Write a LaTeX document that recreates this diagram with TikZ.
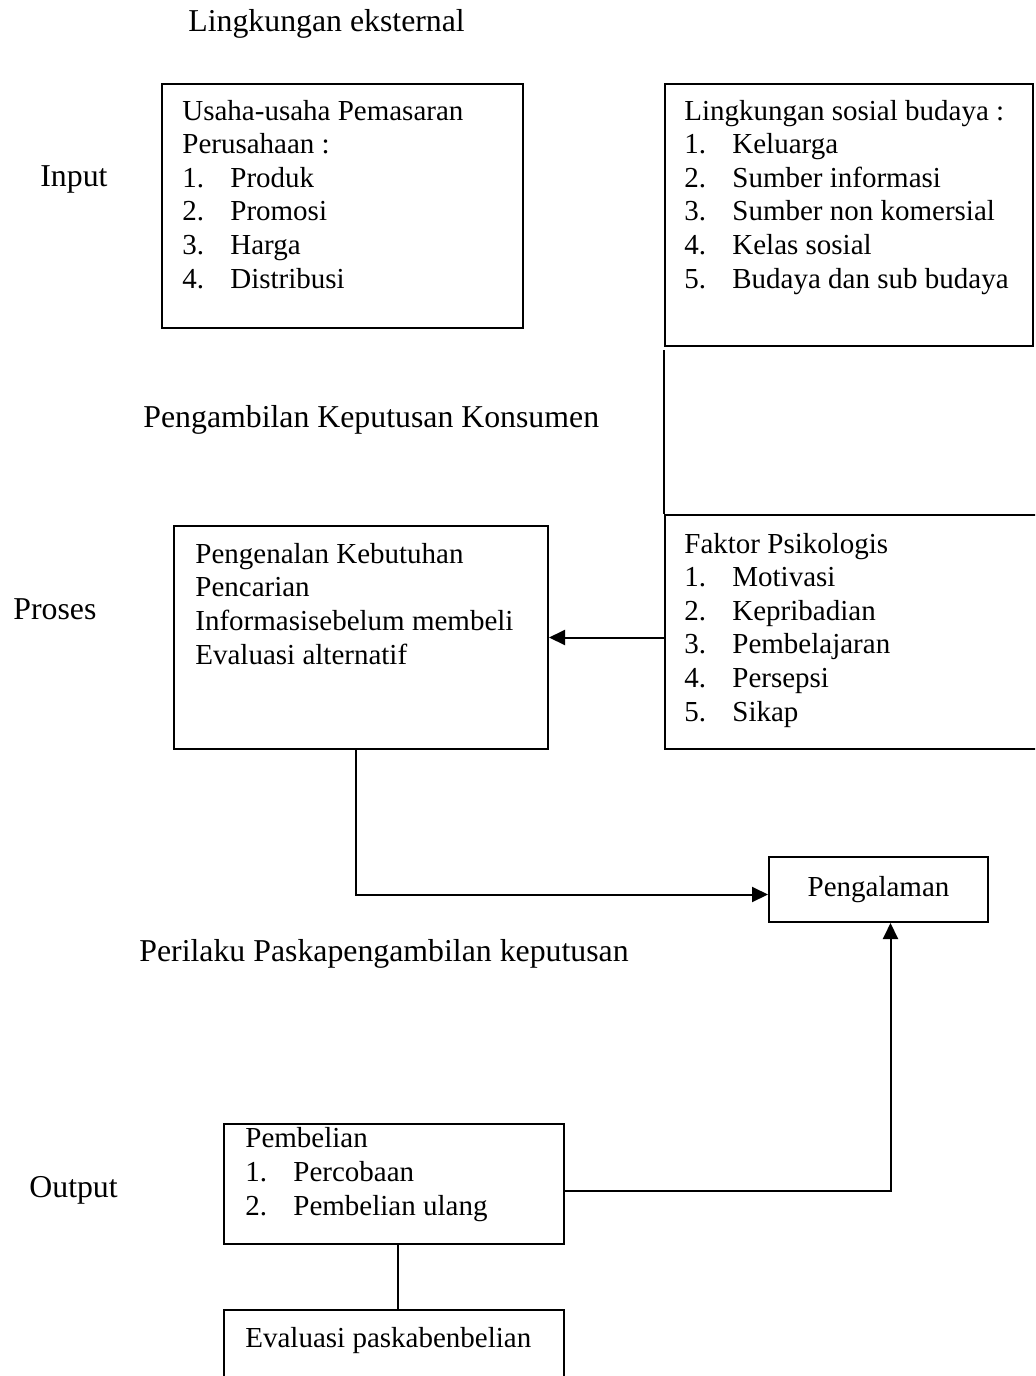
\documentclass[tikz,border=0pt]{standalone}
\usepackage{fontspec}
\setmainfont{Liberation Serif}
\usetikzlibrary{arrows.meta,positioning}

\newcommand{\butir}[2]{\makebox[24pt][l]{#1}#2}

\begin{document}
\begin{tikzpicture}[
    x=0.5pt,
    y=-0.5pt,
    kotak/.style={draw, line width=1pt, anchor=north west, inner sep=0pt},
    isi/.style={anchor=base west, align=left, inner sep=0pt},
    judul/.style={anchor=base west, inner sep=0pt, font=\fontsize{15.9}{18}\selectfont},
    garis/.style={line width=1pt},
    panah/.style={garis, -{Triangle[length=8pt,width=7.5pt]}},
    font=\fontsize{14.5}{16.8}\selectfont
]
    \clip (0,0) rectangle (1035,1376);

    % Judul dan tahap
    \node[judul] (eksternal) at (188,32) {Lingkungan eksternal};
    \node[judul] (input) at (40,186) {Input};
    \node[judul] (keputusan) at (143,427) {Pengambilan Keputusan Konsumen};
    \node[judul] (proses) at (13,619) {Proses};
    \node[judul] (paska) at (139,961) {Perilaku Paskapengambilan keputusan};
    \node[judul] (output) at (29,1197) {Output};

    % Kotak-kotak
    \node[kotak, minimum width=180.5pt, minimum height=122pt] (usaha) at (161,83) {};
    \node[kotak, minimum width=184pt, minimum height=131pt] (sosial) at (664,83) {};
    \node[kotak, minimum width=187pt, minimum height=111.5pt] (kenal) at (173,525) {};
    \node[kotak, minimum width=195pt, minimum height=117pt] (psiko) at (664,514) {};
    \node[kotak, minimum width=109.5pt, minimum height=32.5pt] (alam) at (768,856) {Pengalaman};
    \node[kotak, minimum width=170pt, minimum height=60pt] (beli) at (223,1123) {};
    \node[kotak, minimum width=170pt, minimum height=50pt] (evaluasi) at (223,1309) {};

    % Isi kotak (titik = garis dasar baris terakhir)
    \node[isi] (usaha-isi) at (182,288) {Usaha-usaha Pemasaran\\Perusahaan :\\
        \butir{1.}{Produk}\\\butir{2.}{Promosi}\\\butir{3.}{Harga}\\\butir{4.}{Distribusi}};
    \node[isi] (sosial-isi) at (684,288) {Lingkungan sosial budaya :\\
        \butir{1.}{Keluarga}\\\butir{2.}{Sumber informasi}\\\butir{3.}{Sumber non komersial}\\
        \butir{4.}{Kelas sosial}\\\butir{5.}{Budaya dan sub budaya}};
    \node[isi] (kenal-isi) at (195,664) {Pengenalan Kebutuhan\\Pencarian\\
        Informasisebelum membeli\\Evaluasi alternatif};
    \node[isi] (psiko-isi) at (684,721) {Faktor Psikologis\\
        \butir{1.}{Motivasi}\\\butir{2.}{Kepribadian}\\\butir{3.}{Pembelajaran}\\
        \butir{4.}{Persepsi}\\\butir{5.}{Sikap}};
    \node[isi] (beli-isi) at (245,1215) {Pembelian\\\butir{1.}{Percobaan}\\\butir{2.}{Pembelian ulang}};
    \node[isi] (evaluasi-isi) at (245,1347) {Evaluasi paskabenbelian};

    % Penghubung
    \draw[garis] ([yshift=-1.5pt]sosial.south west) -- (psiko.north west);
    \draw[panah] (kenal.east -| psiko.west) -- (kenal.east);
    \draw[panah] ([xshift=-2.5pt]kenal.south) |- ([yshift=-2.5pt]alam.west);
    \draw[panah] ([yshift=-3.5pt]beli.east) -| ([xshift=6pt]alam.south);
    \draw[garis] ([xshift=2pt]beli.south) -- ([xshift=2pt]evaluasi.north);
\end{tikzpicture}
\end{document}
